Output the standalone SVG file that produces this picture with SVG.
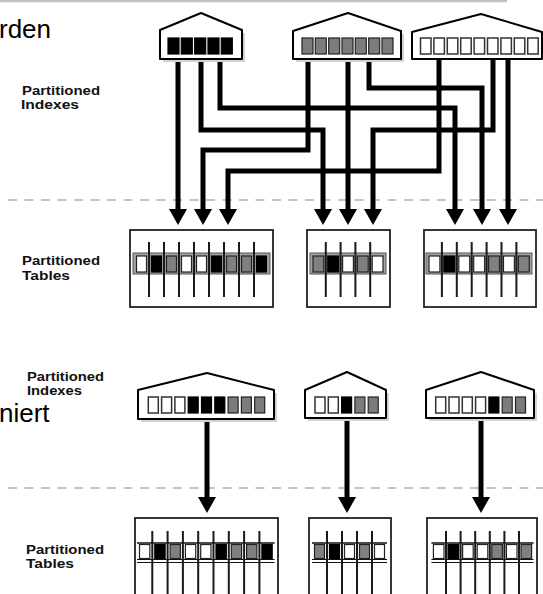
<svg xmlns="http://www.w3.org/2000/svg" width="543" height="594" viewBox="0 0 543 594">
  <style>
    .big { font-family: "Liberation Sans", Arial, sans-serif; font-size: 26px; fill: #000; }
    .lbl { font-family: "Liberation Sans", Arial, sans-serif; font-size: 12px; font-weight: bold; fill: #111; }
    .house { fill: #fff; stroke: #000; stroke-width: 2; stroke-linejoin: round; }
    .shadow { fill: #d2d2d2; }
    .sq-b { fill: #000; stroke: #000; stroke-width: 1.2; }
    .sq-g { fill: #7c7c7c; stroke: #222; stroke-width: 1.2; }
    .sq-w { fill: #fff; stroke: #333; stroke-width: 1.5; }
    .tbl { fill: #fff; stroke: #222; stroke-width: 1.8; }
    .band { fill: #a4a4a4; stroke: #555; stroke-width: 1; }
    .rowline { stroke: #111; fill: none; }
    .vl { stroke: #1a1a1a; stroke-width: 2; }
    .c-w { fill: #fff; stroke: #222; stroke-width: 1.2; }
    .c-b { fill: #000; stroke: #000; stroke-width: 1.2; }
    .c-g { fill: #808080; stroke: #222; stroke-width: 1.2; }
    .wire { fill: none; stroke: #000; stroke-width: 5; stroke-linejoin: miter; }
    .dash { stroke: #c4c4c4; stroke-width: 1.8; stroke-dasharray: 9 7.5; }
  </style>
  <defs>
    <marker id="arrow" markerUnits="userSpaceOnUse" markerWidth="18" markerHeight="18" viewBox="0 0 16 18" refX="1" refY="9" orient="auto">
      <path d="M0,0 L16,9 L0,18 Z" fill="#000"/>
    </marker>
  </defs>

  <rect width="543" height="594" fill="#fff"/>

  <!-- page rule and cut-off body text -->
  <line x1="0" y1="1" x2="507" y2="1" stroke="#c0c0c0" stroke-width="2.5"/>
  <text class="big" x="-1" y="38">rden</text>
  <text class="big" x="-1" y="422">niert</text>

  <!-- separators -->
  <line class="dash" x1="8" y1="200" x2="543" y2="200"/>
  <line class="dash" x1="8" y1="488" x2="543" y2="488"/>

  <!-- row labels -->
  <g id="labels">
    <text class="lbl" x="22" y="95" textLength="78" lengthAdjust="spacingAndGlyphs">Partitioned</text>
    <text class="lbl" x="21" y="109" textLength="58" lengthAdjust="spacingAndGlyphs">Indexes</text>
    <text class="lbl" x="22" y="265" textLength="78" lengthAdjust="spacingAndGlyphs">Partitioned</text>
    <text class="lbl" x="22" y="280" textLength="48" lengthAdjust="spacingAndGlyphs">Tables</text>
    <text class="lbl" x="27" y="381" textLength="77" lengthAdjust="spacingAndGlyphs">Partitioned</text>
    <text class="lbl" x="27" y="395" textLength="55" lengthAdjust="spacingAndGlyphs">Indexes</text>
    <text class="lbl" x="26" y="554" textLength="78" lengthAdjust="spacingAndGlyphs">Partitioned</text>
    <text class="lbl" x="26" y="568" textLength="48" lengthAdjust="spacingAndGlyphs">Tables</text>
  </g>

  <!-- connectors -->
  <g id="connectors">
    <path class="wire" d="M178,59 V210" marker-end="url(#arrow)"/>
    <path class="wire" d="M201,59 V130 H323 V210" marker-end="url(#arrow)"/>
    <path class="wire" d="M220,59 V108 H455 V210" marker-end="url(#arrow)"/>
    <path class="wire" d="M308,59 V150 H203 V210" marker-end="url(#arrow)"/>
    <path class="wire" d="M348,59 V210" marker-end="url(#arrow)"/>
    <path class="wire" d="M369,59 V88 H482 V210" marker-end="url(#arrow)"/>
    <path class="wire" d="M439,59 V171 H228 V210" marker-end="url(#arrow)"/>
    <path class="wire" d="M493,59 V130 H373 V210" marker-end="url(#arrow)"/>
    <path class="wire" d="M508,59 V210" marker-end="url(#arrow)"/>
    <path class="wire" d="M207,419 V498" marker-end="url(#arrow)"/>
    <path class="wire" d="M347,418 V498" marker-end="url(#arrow)"/>
    <path class="wire" d="M481,418 V498" marker-end="url(#arrow)"/>
  </g>

  <!-- upper index nodes -->
  <g id="idx-top-1">
    <path class="shadow" d="M163,33 L245,33 L245,62 L163,62 Z"/>
    <path class="house" d="M160,30 L201,13 L242,30 L242,59 L160,59 Z"/>
    <rect class="sq-b" x="168" y="38" width="11" height="16"/>
    <rect class="sq-b" x="181.3" y="38" width="11" height="16"/>
    <rect class="sq-b" x="194.7" y="38" width="11" height="16"/>
    <rect class="sq-b" x="208" y="38" width="11" height="16"/>
    <rect class="sq-b" x="221.3" y="38" width="11" height="16"/>
  </g>
  <g id="idx-top-2">
    <path class="shadow" d="M296,34 L404,34 L404,62 L296,62 Z"/>
    <path class="house" d="M293,31 L348,13 L401,31 L401,59 L293,59 Z"/>
    <rect class="sq-g" x="302" y="38" width="11" height="16"/>
    <rect class="sq-g" x="315.3" y="38" width="11" height="16"/>
    <rect class="sq-g" x="328.7" y="38" width="11" height="16"/>
    <rect class="sq-g" x="342" y="38" width="11" height="16"/>
    <rect class="sq-g" x="355.3" y="38" width="11" height="16"/>
    <rect class="sq-g" x="368.7" y="38" width="11" height="16"/>
    <rect class="sq-g" x="382" y="38" width="11" height="16"/>
  </g>
  <g id="idx-top-3">
    <path class="house" d="M412,32 L481,14 L542,32 L542,59 L412,59 Z"/>
    <rect class="sq-w" x="420.5" y="38" width="10.5" height="16"/>
    <rect class="sq-w" x="433.9" y="38" width="10.5" height="16"/>
    <rect class="sq-w" x="447.3" y="38" width="10.5" height="16"/>
    <rect class="sq-w" x="460.7" y="38" width="10.5" height="16"/>
    <rect class="sq-w" x="474.1" y="38" width="10.5" height="16"/>
    <rect class="sq-w" x="487.5" y="38" width="10.5" height="16"/>
    <rect class="sq-w" x="500.9" y="38" width="10.5" height="16"/>
    <rect class="sq-w" x="514.3" y="38" width="10.5" height="16"/>
    <rect class="sq-w" x="527.7" y="38" width="10.5" height="16"/>
  </g>

  <!-- upper tables -->
  <g id="tbl-top-1">
    <rect class="tbl" x="130" y="230" width="143" height="77"/>
    <rect class="band" x="133" y="253" width="137" height="21"/>
    <rect class="c-w" x="136.5" y="256" width="10" height="16"/>
    <rect class="c-b" x="151.5" y="256" width="10" height="16"/>
    <rect class="c-g" x="166.5" y="256" width="10" height="16"/>
    <rect class="c-w" x="181.5" y="256" width="10" height="16"/>
    <rect class="c-w" x="196.5" y="256" width="10" height="16"/>
    <rect class="c-b" x="211.5" y="256" width="10" height="16"/>
    <rect class="c-g" x="226.5" y="256" width="10" height="16"/>
    <rect class="c-g" x="241.5" y="256" width="10" height="16"/>
    <rect class="c-b" x="256.5" y="256" width="10" height="16"/>
    <path class="vl" d="M149,242 V297 M164,242 V297 M179,242 V297 M194,242 V297 M209,242 V297 M224,242 V297 M239,242 V297 M254,242 V297"/>
  </g>
  <g id="tbl-top-2">
    <rect class="tbl" x="307" y="230" width="83" height="77"/>
    <rect class="band" x="310" y="253" width="76" height="21"/>
    <rect class="c-g" x="313" y="256" width="10.8" height="16"/>
    <rect class="c-b" x="327.8" y="256" width="10.8" height="16"/>
    <rect class="c-w" x="342.6" y="256" width="10.8" height="16"/>
    <rect class="c-g" x="357.4" y="256" width="10.8" height="16"/>
    <rect class="c-w" x="372.2" y="256" width="10.8" height="16"/>
    <path class="vl" d="M325.8,242 V297 M340.6,242 V297 M355.4,242 V297 M370.2,242 V297"/>
  </g>
  <g id="tbl-top-3">
    <rect class="tbl" x="424" y="230" width="112" height="77"/>
    <rect class="band" x="426" y="253" width="106" height="21"/>
    <rect class="c-w" x="429" y="256" width="10.9" height="16"/>
    <rect class="c-b" x="443.9" y="256" width="10.9" height="16"/>
    <rect class="c-w" x="458.8" y="256" width="10.9" height="16"/>
    <rect class="c-w" x="473.7" y="256" width="10.9" height="16"/>
    <rect class="c-g" x="488.6" y="256" width="10.9" height="16"/>
    <rect class="c-w" x="503.5" y="256" width="10.9" height="16"/>
    <rect class="c-g" x="518.4" y="256" width="10.9" height="16"/>
    <path class="vl" d="M441.9,242 V297 M456.8,242 V297 M471.7,242 V297 M486.6,242 V297 M501.5,242 V297 M516.4,242 V297"/>
  </g>

  <!-- lower index nodes -->
  <g id="idx-bot-1">
    <path class="shadow" d="M141,393 L277,393 L277,422 L141,422 Z"/>
    <path class="house" d="M138,390 L207,373 L274,390 L274,419 L138,419 Z"/>
    <rect class="sq-w" x="148.3" y="397" width="10" height="16"/>
    <rect class="sq-w" x="161.6" y="397" width="10" height="16"/>
    <rect class="sq-w" x="174.9" y="397" width="10" height="16"/>
    <rect class="sq-b" x="188.2" y="397" width="10" height="16"/>
    <rect class="sq-b" x="201.5" y="397" width="10" height="16"/>
    <rect class="sq-b" x="214.8" y="397" width="10" height="16"/>
    <rect class="sq-g" x="228.1" y="397" width="10" height="16"/>
    <rect class="sq-g" x="241.4" y="397" width="10" height="16"/>
    <rect class="sq-g" x="254.7" y="397" width="10" height="16"/>
  </g>
  <g id="idx-bot-2">
    <path class="shadow" d="M308,393 L389,393 L389,421 L308,421 Z"/>
    <path class="house" d="M305,390 L347,372 L386,390 L386,418 L305,418 Z"/>
    <rect class="sq-w" x="315" y="397" width="10" height="16"/>
    <rect class="sq-w" x="328.3" y="397" width="10" height="16"/>
    <rect class="sq-b" x="341.6" y="397" width="10" height="16"/>
    <rect class="sq-g" x="354.9" y="397" width="10" height="16"/>
    <rect class="sq-g" x="368.2" y="397" width="10" height="16"/>
  </g>
  <g id="idx-bot-3">
    <path class="shadow" d="M429,393 L537,393 L537,421 L429,421 Z"/>
    <path class="house" d="M426,390 L481,372 L534,390 L534,418 L426,418 Z"/>
    <rect class="sq-w" x="435.7" y="397" width="10" height="16"/>
    <rect class="sq-w" x="449" y="397" width="10" height="16"/>
    <rect class="sq-w" x="462.3" y="397" width="10" height="16"/>
    <rect class="sq-w" x="475.6" y="397" width="10" height="16"/>
    <rect class="sq-b" x="488.9" y="397" width="10" height="16"/>
    <rect class="sq-g" x="502.2" y="397" width="10" height="16"/>
    <rect class="sq-g" x="515.5" y="397" width="10" height="16"/>
  </g>

  <!-- lower tables -->
  <g id="tbl-bot-1">
    <rect class="tbl" x="135" y="518" width="143" height="90"/>
    <path class="rowline" stroke-width="1.6" d="M137,543 H274.6"/>
    <path class="rowline" stroke-width="1" d="M137,559.5 H274.6 M137,562.5 H274.6"/>
    <rect class="c-w" x="139.5" y="544.5" width="10.3" height="14"/>
    <rect class="c-b" x="154.8" y="544.5" width="10.3" height="14"/>
    <rect class="c-g" x="170.1" y="544.5" width="10.3" height="14"/>
    <rect class="c-w" x="185.4" y="544.5" width="10.3" height="14"/>
    <rect class="c-w" x="200.7" y="544.5" width="10.3" height="14"/>
    <rect class="c-b" x="216" y="544.5" width="10.3" height="14"/>
    <rect class="c-g" x="231.3" y="544.5" width="10.3" height="14"/>
    <rect class="c-g" x="246.6" y="544.5" width="10.3" height="14"/>
    <rect class="c-b" x="261.9" y="544.5" width="10.3" height="14"/>
    <path class="vl" d="M152.3,531 V594 M167.6,531 V594 M182.9,531 V594 M198.2,531 V594 M213.5,531 V594 M228.8,531 V594 M244.1,531 V594 M259.4,531 V594"/>
  </g>
  <g id="tbl-bot-2">
    <rect class="tbl" x="309" y="518" width="82" height="90"/>
    <path class="rowline" stroke-width="1.6" d="M312,543 H387"/>
    <path class="rowline" stroke-width="1" d="M312,559.5 H387 M312,562.5 H387"/>
    <rect class="c-g" x="314.5" y="544.5" width="10" height="14"/>
    <rect class="c-b" x="329.5" y="544.5" width="10" height="14"/>
    <rect class="c-w" x="344.5" y="544.5" width="10" height="14"/>
    <rect class="c-g" x="359.5" y="544.5" width="10" height="14"/>
    <rect class="c-w" x="374.5" y="544.5" width="10" height="14"/>
    <path class="vl" d="M327,531 V594 M342,531 V594 M357,531 V594 M372,531 V594"/>
  </g>
  <g id="tbl-bot-3">
    <rect class="tbl" x="427" y="518" width="110" height="90"/>
    <path class="rowline" stroke-width="1.6" d="M431.4,543 H533.6"/>
    <path class="rowline" stroke-width="1" d="M431.4,559.5 H533.6 M431.4,562.5 H533.6"/>
    <rect class="c-w" x="433.4" y="544.5" width="10.6" height="14"/>
    <rect class="c-b" x="448" y="544.5" width="10.6" height="14"/>
    <rect class="c-w" x="462.6" y="544.5" width="10.6" height="14"/>
    <rect class="c-w" x="477.2" y="544.5" width="10.6" height="14"/>
    <rect class="c-g" x="491.8" y="544.5" width="10.6" height="14"/>
    <rect class="c-w" x="506.4" y="544.5" width="10.6" height="14"/>
    <rect class="c-g" x="521" y="544.5" width="10.6" height="14"/>
    <path class="vl" d="M446,531 V594 M460.6,531 V594 M475.2,531 V594 M489.8,531 V594 M504.4,531 V594 M519,531 V594"/>
  </g>
</svg>
